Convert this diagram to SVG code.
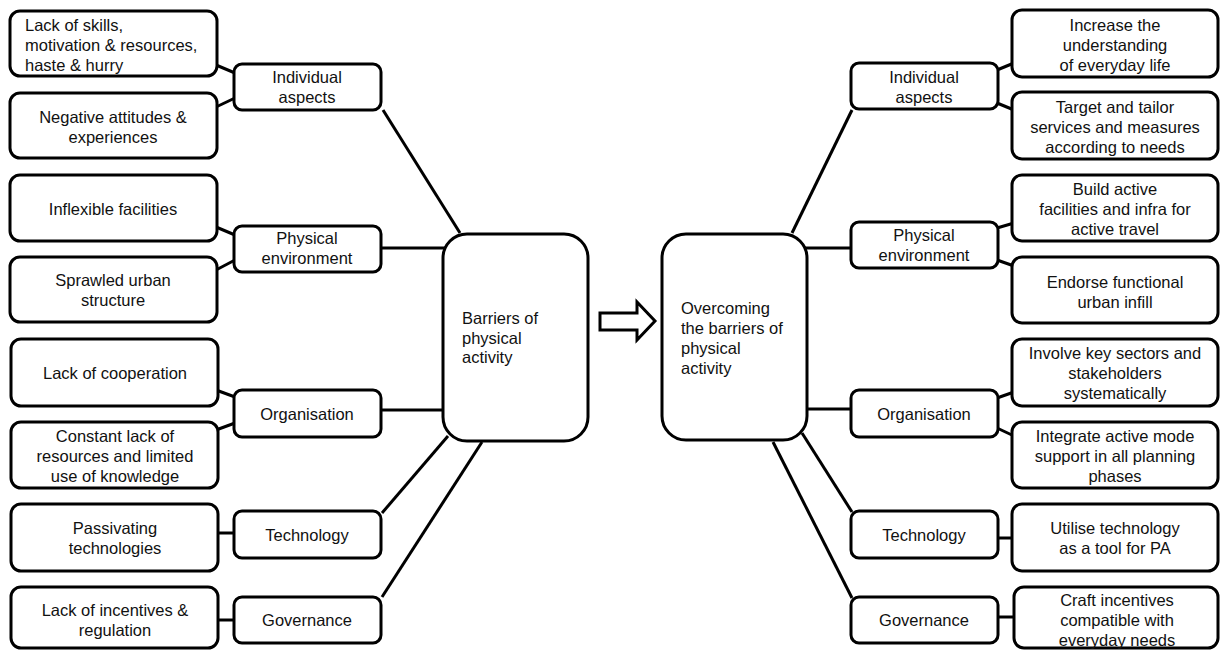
<svg xmlns="http://www.w3.org/2000/svg" width="1224" height="650" viewBox="0 0 1224 650">
<style>
.box{fill:#fff;stroke:#000;stroke-width:3}
.t{font-family:"Liberation Sans",Arial,sans-serif;font-size:16.5px;fill:#111}
.c{text-anchor:middle}
.ln{stroke:#000;stroke-width:3;fill:none}
</style>
<rect width="1224" height="650" fill="#fff"/>
<g id="connectors">
<line class="ln" x1="216" y1="65" x2="235" y2="73"/>
<line class="ln" x1="216" y1="107" x2="235" y2="98"/>
<line class="ln" x1="216" y1="227" x2="235" y2="235"/>
<line class="ln" x1="216" y1="270" x2="235" y2="260"/>
<line class="ln" x1="216" y1="390" x2="235" y2="397"/>
<line class="ln" x1="216" y1="430" x2="235" y2="423"/>
<line class="ln" x1="216" y1="533" x2="235" y2="533"/>
<line class="ln" x1="216" y1="620" x2="235" y2="620"/>
<line class="ln" x1="383" y1="110" x2="460" y2="233"/>
<line class="ln" x1="381" y1="248" x2="445" y2="248"/>
<line class="ln" x1="381" y1="410" x2="445" y2="410"/>
<line class="ln" x1="382" y1="513" x2="448" y2="436"/>
<line class="ln" x1="382" y1="597" x2="482" y2="442"/>
<line class="ln" x1="852" y1="110" x2="792" y2="233"/>
<line class="ln" x1="805" y1="248" x2="851" y2="248"/>
<line class="ln" x1="805" y1="409" x2="851" y2="409"/>
<line class="ln" x1="852" y1="512" x2="802" y2="433"/>
<line class="ln" x1="852" y1="598" x2="773" y2="442"/>
<line class="ln" x1="997" y1="70" x2="1014" y2="63"/>
<line class="ln" x1="997" y1="103" x2="1014" y2="110"/>
<line class="ln" x1="997" y1="228" x2="1014" y2="223"/>
<line class="ln" x1="997" y1="260" x2="1014" y2="266"/>
<line class="ln" x1="997" y1="398" x2="1014" y2="392"/>
<line class="ln" x1="997" y1="428" x2="1014" y2="436"/>
<line class="ln" x1="997" y1="538" x2="1014" y2="538"/>
<line class="ln" x1="997" y1="617" x2="1014" y2="617"/>
<polygon class="ln" points="600,313 637,313 637,302 655,321 637,340 637,330 600,330"/>
</g>
<g id="center-left"><rect class="box" x="443" y="234" width="145" height="207" rx="24"/>
<text class="t" x="462" y="324">Barriers of</text><text class="t" x="462" y="344">physical</text><text class="t" x="462" y="363">activity</text></g>
<g id="center-right"><rect class="box" x="662" y="234" width="145" height="206" rx="24"/>
<text class="t" x="681" y="314">Overcoming</text><text class="t" x="681" y="334">the barriers of</text><text class="t" x="681" y="354">physical</text><text class="t" x="681" y="374">activity</text></g>

<g id="l-ind"><rect class="box" x="234" y="64" width="147" height="46" rx="8"/><text class="t c" x="307" y="83">Individual</text><text class="t c" x="307" y="103">aspects</text></g>
<g id="l-phys"><rect class="box" x="234" y="226" width="147" height="46" rx="8"/><text class="t c" x="307" y="244">Physical</text><text class="t c" x="307" y="264">environment</text></g>
<g id="l-org"><rect class="box" x="234" y="390" width="147" height="47" rx="8"/><text class="t c" x="307" y="420">Organisation</text></g>
<g id="l-tech"><rect class="box" x="234" y="511" width="147" height="47" rx="8"/><text class="t c" x="307" y="541">Technology</text></g>
<g id="l-gov"><rect class="box" x="234" y="597" width="147" height="46" rx="8"/><text class="t c" x="307" y="626">Governance</text></g>

<g id="r-ind"><rect class="box" x="851" y="63" width="147" height="46" rx="8"/><text class="t c" x="924" y="83">Individual</text><text class="t c" x="924" y="103">aspects</text></g>
<g id="r-phys"><rect class="box" x="851" y="222" width="147" height="46" rx="8"/><text class="t c" x="924" y="241">Physical</text><text class="t c" x="924" y="261">environment</text></g>
<g id="r-org"><rect class="box" x="851" y="390" width="147" height="47" rx="8"/><text class="t c" x="924" y="420">Organisation</text></g>
<g id="r-tech"><rect class="box" x="851" y="511" width="147" height="47" rx="8"/><text class="t c" x="924" y="541">Technology</text></g>
<g id="r-gov"><rect class="box" x="851" y="597" width="147" height="46" rx="8"/><text class="t c" x="924" y="626">Governance</text></g>

<g id="l1"><rect class="box" x="10" y="11" width="207" height="65" rx="10"/><text class="t" x="25" y="31">Lack of skills,</text><text class="t" x="25" y="51">motivation &amp; resources,</text><text class="t" x="25" y="71">haste &amp; hurry</text></g>
<g id="l2"><rect class="box" x="10" y="93" width="207" height="65" rx="10"/><text class="t c" x="113" y="123">Negative attitudes &amp;</text><text class="t c" x="113" y="143">experiences</text></g>
<g id="l3"><rect class="box" x="10" y="175" width="207" height="66" rx="10"/><text class="t c" x="113" y="215">Inflexible facilities</text></g>
<g id="l4"><rect class="box" x="10" y="257" width="207" height="65" rx="10"/><text class="t c" x="113" y="286">Sprawled urban</text><text class="t c" x="113" y="306">structure</text></g>
<g id="l5"><rect class="box" x="11" y="339" width="207" height="67" rx="10"/><text class="t c" x="115" y="379">Lack of cooperation</text></g>
<g id="l6"><rect class="box" x="11" y="422" width="207" height="66" rx="10"/><text class="t c" x="115" y="442">Constant lack of</text><text class="t c" x="115" y="462">resources and limited</text><text class="t c" x="115" y="482">use of knowledge</text></g>
<g id="l7"><rect class="box" x="11" y="504" width="207" height="67" rx="10"/><text class="t c" x="115" y="534">Passivating</text><text class="t c" x="115" y="554">technologies</text></g>
<g id="l8"><rect class="box" x="11" y="587" width="207" height="61" rx="10"/><text class="t c" x="115" y="616">Lack of incentives &amp;</text><text class="t c" x="115" y="636">regulation</text></g>

<g id="r1"><rect class="box" x="1012" y="10" width="206" height="67" rx="10"/><text class="t c" x="1115" y="31">Increase the</text><text class="t c" x="1115" y="51">understanding</text><text class="t c" x="1115" y="71">of everyday life</text></g>
<g id="r2"><rect class="box" x="1012" y="92" width="206" height="67" rx="10"/><text class="t c" x="1115" y="113">Target and tailor</text><text class="t c" x="1115" y="133">services and measures</text><text class="t c" x="1115" y="153">according to needs</text></g>
<g id="r3"><rect class="box" x="1012" y="175" width="206" height="66" rx="10"/><text class="t c" x="1115" y="195">Build active</text><text class="t c" x="1115" y="215">facilities and infra for</text><text class="t c" x="1115" y="235">active travel</text></g>
<g id="r4"><rect class="box" x="1012" y="257" width="206" height="66" rx="10"/><text class="t c" x="1115" y="288">Endorse functional</text><text class="t c" x="1115" y="308">urban infill</text></g>
<g id="r5"><rect class="box" x="1012" y="339" width="206" height="67" rx="10"/><text class="t c" x="1115" y="359">Involve key sectors and</text><text class="t c" x="1115" y="379">stakeholders</text><text class="t c" x="1115" y="399">systematically</text></g>
<g id="r6"><rect class="box" x="1012" y="422" width="206" height="66" rx="10"/><text class="t c" x="1115" y="442">Integrate active mode</text><text class="t c" x="1115" y="462">support in all planning</text><text class="t c" x="1115" y="482">phases</text></g>
<g id="r7"><rect class="box" x="1012" y="504" width="206" height="67" rx="10"/><text class="t c" x="1115" y="534">Utilise technology</text><text class="t c" x="1115" y="554">as a tool for PA</text></g>
<g id="r8"><rect class="box" x="1014" y="587" width="204" height="61" rx="10"/><text class="t c" x="1117" y="606">Craft incentives</text><text class="t c" x="1117" y="626">compatible with</text><text class="t c" x="1117" y="646">everyday needs</text></g>
</svg>
